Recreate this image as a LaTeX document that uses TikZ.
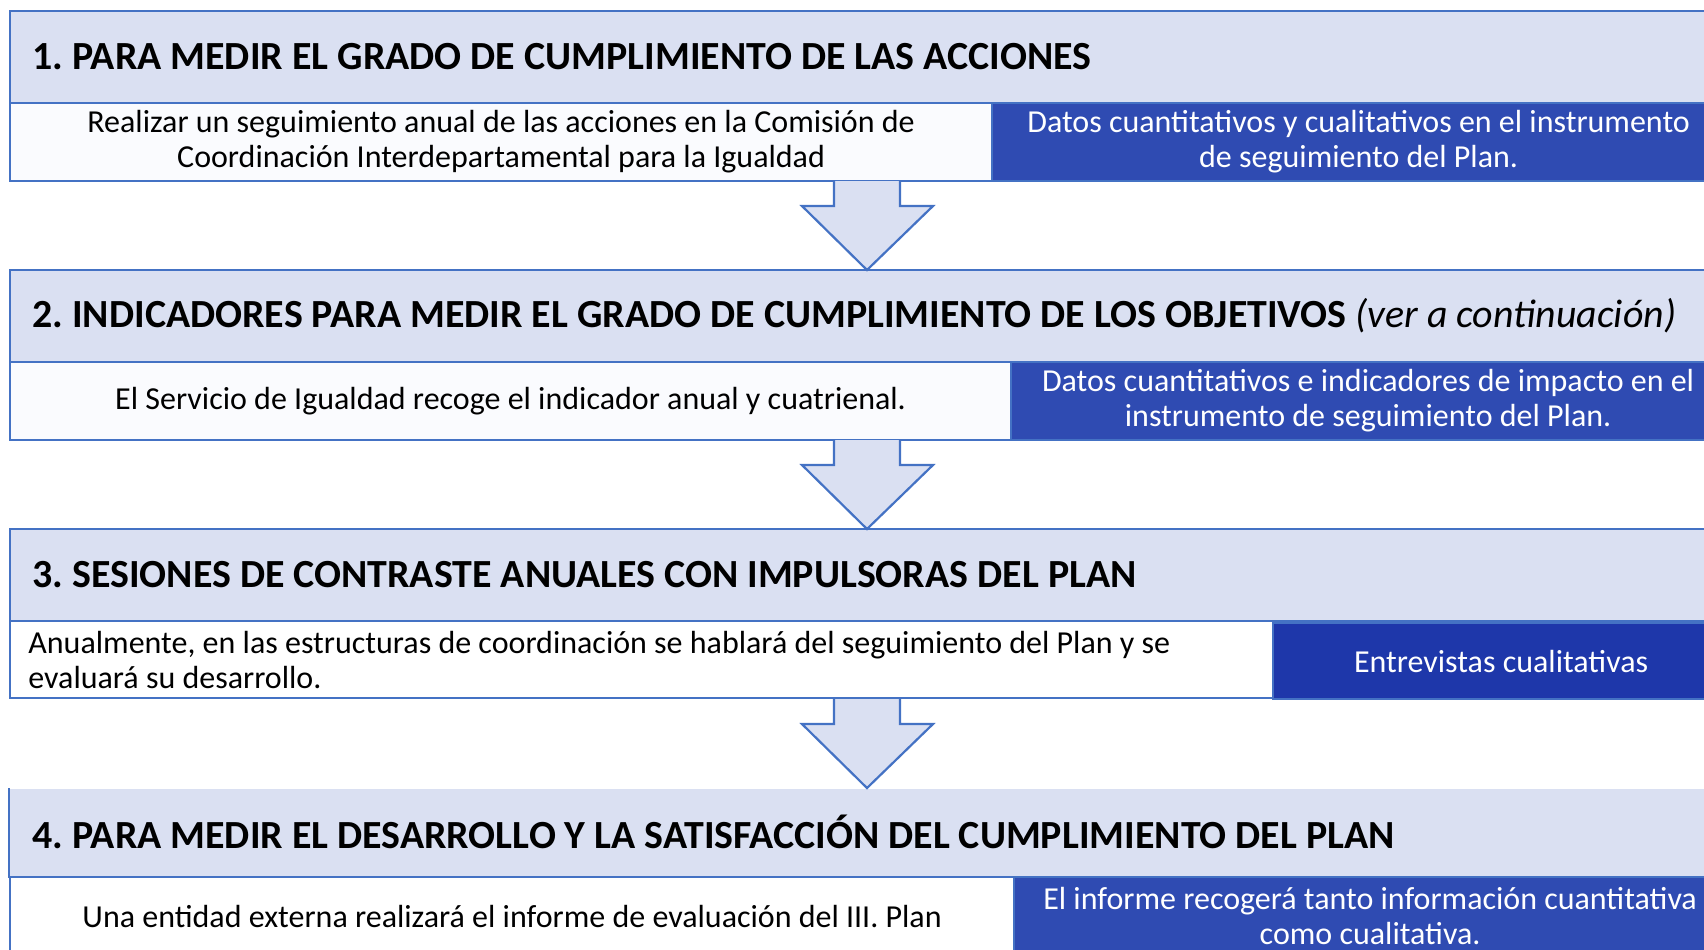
\documentclass[tikz,border=0pt]{standalone}
\usepackage{fontspec}
\setmainfont{Carlito}
\usetikzlibrary{calc}
\definecolor{lightc}{RGB}{218,224,242}
\definecolor{bordc}{RGB}{68,114,196}
\definecolor{darkc}{RGB}{47,75,178}
\definecolor{darkd}{RGB}{30,55,170}
\definecolor{offw}{RGB}{250,251,254}
\newcommand\bodyfnt{\frenchspacing\fontsize{16}{17.5}\selectfont}
\newcommand\ttlfnt{\frenchspacing\bfseries\fontsize{19.95}{22}\selectfont}
\begin{document}
\frenchspacing
\begin{tikzpicture}[x=0.5pt,y=-0.5pt,
  hdr/.style={rectangle, draw=bordc, fill=lightc, line width=1.1pt, anchor=north west, inner sep=0pt, minimum width=865.5pt, minimum height=46pt},
  cellw/.style={rectangle, draw=bordc, fill=white, line width=1.1pt, anchor=north west, inner sep=0pt, font=\bodyfnt, align=center, text=black},
  celld/.style={cellw, fill=darkc, text=white},
  ttl/.style={anchor=west, inner sep=0pt, font=\ttlfnt},
  downarrow/.pic={
    \fill[lightc] (-33,1) -- (-33,26) -- (-65,26) -- (0,90) -- (66,26) -- (33,26) -- (33,1) -- cycle;
    \draw[bordc, line width=1.1pt] (-33,0) -- (-33,26) -- (-65,26) -- (0,90) -- (66,26) -- (33,26) -- (33,0);
  }]
\useasboundingbox (0,0) rectangle (1704,949);
\clip (0,0) rectangle (1704,949);
\fill[white] (0,0) rectangle (1704,949);
% Box 1
\node[hdr] (h1) at (9,10) {};
\node[cellw, fill=offw, minimum width=491pt, minimum height=39pt] (l1) at (9,102) {Realizar un seguimiento anual de las acciones en la Comisión de\\Coordinación Interdepartamental para la Igualdad};
\node[celld, minimum width=366.5pt, minimum height=39pt] (r1) at (991,102) {Datos cuantitativos y cualitativos en el instrumento\\de seguimiento del Plan.};
\node[ttl] (t1) at (32,57) {1. PARA MEDIR EL GRADO DE CUMPLIMIENTO DE LAS ACCIONES};
% Box 2
\node[hdr] (h2) at (9,269) {};
\node[cellw, fill=offw, minimum width=500.5pt, minimum height=39pt] (l2) at (9,361) {El Servicio de Igualdad recoge el indicador anual y cuatrienal.};
\node[celld, minimum width=357pt, minimum height=39pt] (r2) at (1010,361) {Datos cuantitativos e indicadores de impacto en el\\instrumento de seguimiento del Plan.};
\node[ttl] (t2) at (32,316) {2. INDICADORES PARA MEDIR EL GRADO DE CUMPLIMIENTO DE LOS OBJETIVOS \textmd{\itshape (ver a continuación)}};
% Box 3
\node[hdr] (h3) at (9,528) {};
\node[cellw, minimum width=631.5pt, minimum height=38.5pt] (l3) at (9,620) {};
\node[anchor=west, inner sep=0pt, font=\bodyfnt, align=left] (l3t) at (28,660) {Anualmente, en las estructuras de coordinación se hablará del seguimiento del Plan y se\\evaluará su desarrollo.};
\node[celld, fill=darkd, minimum width=228pt, minimum height=38pt] (r3) at (1272,622) {Entrevistas cualitativas};
\node[ttl] (t3) at (32,575) {3. SESIONES DE CONTRASTE ANUALES CON IMPULSORAS DEL PLAN};
% Box 4
\node[hdr, draw=none, minimum height=44pt] (h4) at (9,788) {};
\draw[bordc, line width=1.1pt] (h4.north west) -- (h4.south west);
\node[cellw, minimum width=502pt, minimum height=39pt] (l4) at (9,876) {Una entidad externa realizará el informe de evaluación del III. Plan};
\node[celld, minimum width=356pt, minimum height=39pt] (r4) at (1013,876) {El informe recogerá tanto información cuantitativa\\como cualitativa.};
\node[ttl] (t4) at (32,832) {4. PARA MEDIR EL DESARROLLO Y LA SATISFACCIÓN DEL CUMPLIMIENTO DEL PLAN};
% Arrows
\coordinate (a1) at (867,180);
\coordinate (a2) at (867,439);
\coordinate (a3) at (867,698);
\pic at (a1) {downarrow};
\pic at (a2) {downarrow};
\pic at (a3) {downarrow};
\end{tikzpicture}
\end{document}
